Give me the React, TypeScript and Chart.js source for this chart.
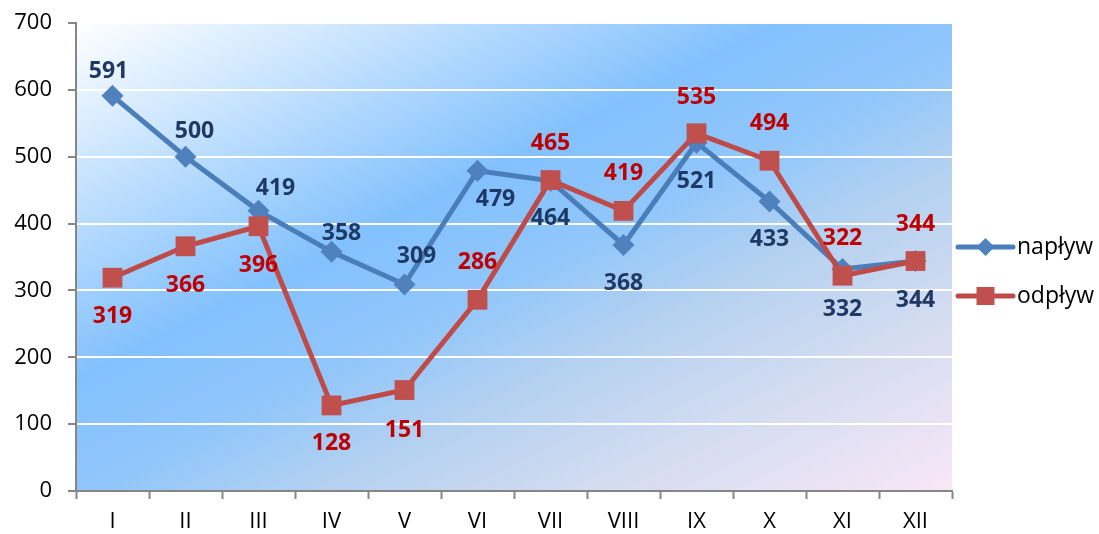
import React, { useEffect, useRef } from 'react';
import { Chart, registerables } from 'chart.js';

Chart.register(...registerables);

const months = ['I', 'II', 'III', 'IV', 'V', 'VI', 'VII', 'VIII', 'IX', 'X', 'XI', 'XII'];
const naplyw = [591, 500, 419, 358, 309, 479, 464, 368, 521, 433, 332, 344];
const odplyw = [319, 366, 396, 128, 151, 286, 465, 419, 535, 494, 322, 344];
const yMin = 0;
const yMax = 700;
const yStep = 100;

// label nudges (dx, dy) in px relative to each point
const naplywLabelOffsets = [[-4, -24], [9, -25], [17, -22], [10, -18], [12, -28], [18, 29], [0, 38], [0, 38], [0, 39], [0, 38], [0, 40], [0, 39]];
const odplywLabelOffsets = [[0, 39], [0, 39], [0, 39], [0, 38], [0, 40], [0, -37], [0, -37], [0, -37], [0, -36], [0, -37], [0, -37], [0, -37]];

const FONT = "'Open Sans', 'Liberation Sans', sans-serif";
const BLUE_LINE = '#4a7ebb';
const BLUE_PT = '#4f81bd';
const RED_LINE = '#be4b48';
const RED_PT = '#c0504d';
const BLUE_LABEL = '#1f3864';
const RED_LABEL = '#c00000';
const AXIS_GRAY = '#868686';

const bgPlugin = {
  id: 'bgGradient',
  beforeDraw(chart: any) {
    const { ctx, chartArea } = chart;
    const { left, top, right, bottom } = chartArea;
    const w = right - left;
    const h = bottom - top;
    const dx = 0.452, dy = 0.892;
    const L = w * dx + h * dy;
    const g = ctx.createLinearGradient(left, top, left + L * dx, top + L * dy);
    g.addColorStop(0, '#ffffff');
    g.addColorStop(0.39, '#83c1fd');
    g.addColorStop(0.52, '#90c6fb');
    g.addColorStop(0.65, '#b4d1f0');
    g.addColorStop(0.8, '#d3dcf1');
    g.addColorStop(1, '#f9e7f7');
    ctx.save();
    ctx.fillStyle = g;
    ctx.fillRect(left, top, w, h);
    ctx.restore();
  },
};

const labelPlugin = {
  id: 'valueLabels',
  afterDatasetsDraw(chart: any) {
    const { ctx } = chart;
    const cfg = [
      { idx: 0, offsets: naplywLabelOffsets, color: BLUE_LABEL },
      { idx: 1, offsets: odplywLabelOffsets, color: RED_LABEL },
    ];
    ctx.save();
    ctx.font = `bold 23px ${FONT}`;
    ctx.textAlign = 'center';
    ctx.textBaseline = 'middle';
    cfg.forEach(({ idx, offsets, color }) => {
      const meta = chart.getDatasetMeta(idx);
      const values = chart.data.datasets[idx].data;
      ctx.fillStyle = color;
      meta.data.forEach((pt: any, j: number) => {
        const [ox, oy] = offsets[j];
        ctx.fillText(String(values[j]), pt.x + ox, pt.y + oy);
      });
    });
    ctx.restore();
  },
};

const legendPlugin = {
  id: 'sideLegend',
  afterDraw(chart: any) {
    const { ctx, chartArea } = chart;
    const x0 = chartArea.right + 6;
    const x1 = x0 + 55;
    const cx = (x0 + x1) / 2;
    const items = [
      { label: 'napływ', line: BLUE_LINE, pt: BLUE_PT, shape: 'diamond', y: chartArea.top + 224 },
      { label: 'odpływ', line: RED_LINE, pt: RED_PT, shape: 'square', y: chartArea.top + 273 },
    ];
    ctx.save();
    items.forEach((it) => {
      ctx.strokeStyle = it.line;
      ctx.lineWidth = 5;
      ctx.lineCap = 'round';
      ctx.beginPath();
      ctx.moveTo(x0, it.y);
      ctx.lineTo(x1, it.y);
      ctx.stroke();
      ctx.fillStyle = it.pt;
      ctx.beginPath();
      if (it.shape === 'diamond') {
        const r = 9;
        ctx.moveTo(cx, it.y - r);
        ctx.lineTo(cx + r, it.y);
        ctx.lineTo(cx, it.y + r);
        ctx.lineTo(cx - r, it.y);
        ctx.closePath();
      } else {
        const s = 9;
        ctx.rect(cx - s, it.y - s, 2 * s, 2 * s);
      }
      ctx.fill();
      ctx.fillStyle = '#000000';
      ctx.font = `23px ${FONT}`;
      ctx.textAlign = 'left';
      ctx.textBaseline = 'middle';
      ctx.fillText(it.label, x1 + 4, it.y);
    });
    ctx.restore();
  },
};

export default function App() {
  const ref = useRef<HTMLCanvasElement | null>(null);

  useEffect(() => {
    document.body.style.margin = '0';
    const canvas = ref.current;
    if (!canvas) return;
    const chart = new Chart(canvas, {
      type: 'line',
      data: {
        labels: months,
        datasets: [
          {
            label: 'napływ',
            data: naplyw,
            borderColor: BLUE_LINE,
            backgroundColor: BLUE_PT,
            borderWidth: 5,
            pointStyle: 'rectRot',
            pointRadius: 11,
            pointBorderWidth: 0,
            pointBackgroundColor: BLUE_PT,
            pointBorderColor: BLUE_PT,
            tension: 0,
            order: 1,
          },
          {
            label: 'odpływ',
            data: odplyw,
            borderColor: RED_LINE,
            backgroundColor: RED_PT,
            borderWidth: 5,
            pointStyle: 'rect',
            pointRadius: 14,
            pointBorderWidth: 0,
            pointBackgroundColor: RED_PT,
            pointBorderColor: RED_PT,
            tension: 0,
            order: 0,
          },
        ],
      },
      options: {
        responsive: false,
        animation: false,
        events: [],
        layout: { padding: { top: 23, right: 147, left: 0, bottom: 0 } },
        plugins: {
          legend: { display: false },
          tooltip: { enabled: false },
        },
        scales: {
          x: {
            offset: true,
            grid: {
              offset: true,
              drawOnChartArea: false,
              drawTicks: true,
              tickLength: 8,
              tickColor: AXIS_GRAY,
              tickWidth: 2,
            },
            border: { color: AXIS_GRAY, width: 2 },
            ticks: {
              color: '#000000',
              font: { family: FONT, size: 22 },
              padding: 10,
              maxRotation: 0,
              autoSkip: false,
            },
            afterFit(scale: any) {
              scale.height = 43;
              scale.paddingLeft = 0;
              scale.paddingRight = 0;
            },
          },
          y: {
            min: yMin,
            max: yMax,
            grid: {
              color: '#ffffff',
              lineWidth: 2,
              drawTicks: true,
              tickLength: 8,
              tickColor: AXIS_GRAY,
              tickWidth: 2,
            },
            border: { color: AXIS_GRAY, width: 2 },
            ticks: {
              stepSize: yStep,
              color: '#000000',
              font: { family: FONT, size: 22 },
              padding: 16,
            },
            afterFit(scale: any) {
              scale.width = 76;
              scale.paddingTop = 0;
              scale.paddingBottom = 0;
            },
          },
        },
      },
      plugins: [bgPlugin, labelPlugin, legendPlugin],
    });
    return () => chart.destroy();
  }, []);

  return (
    <canvas
      ref={ref}
      width={1099}
      height={534}
      style={{ display: 'block', width: '1099px', height: '534px' }}
    />
  );
}
